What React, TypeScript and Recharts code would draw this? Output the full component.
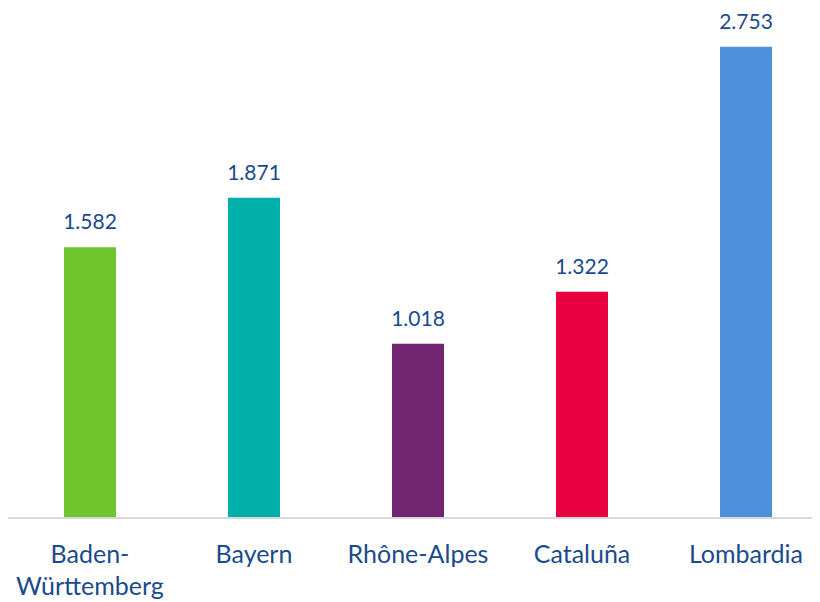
import React from "react";
import { BarChart, Bar, XAxis, YAxis, Cell, LabelList } from "recharts";

const categories = ["Baden-Württemberg", "Bayern", "Rhône-Alpes", "Cataluña", "Lombardia"];
const values = [1.582, 1.871, 1.018, 1.322, 2.753];
const valueLabels = ["1.582", "1.871", "1.018", "1.322", "2.753"];
const colors = ["#71C52E", "#00AFAA", "#71246F", "#E9003F", "#4E91DB"];

const data = categories.map((c, i) => ({ name: c, value: values[i], label: valueLabels[i] }));

const TEXT = "#1B4B8C";
const FONT = "Lato, 'Noto Sans', sans-serif";

const Tick = (props: any) => {
  const { x, y, payload } = props;
  const name: string = payload.value;
  const lines = name === "Baden-Württemberg" ? ["Baden-", "Württemberg"] : [name];
  return (
    <text x={x} y={y} textAnchor="middle" fill={TEXT} fontFamily={FONT} fontSize={25}>
      {lines.map((l, i) => (
        <tspan key={i} x={x} y={y + 37 + i * 32}>
          {l}
        </tspan>
      ))}
    </text>
  );
};

export default function App() {
  return (
    <div style={{ width: 812, height: 594, overflow: "hidden" }}>
      <BarChart
        width={820}
        height={594}
        data={data}
        margin={{ top: 0, right: 0, bottom: 0, left: 0 }}
        barSize={52}
      >
        <XAxis
          dataKey="name"
          tick={<Tick />}
          tickLine={false}
          axisLine={{ stroke: "#D9D9D9", strokeWidth: 2 }}
          height={84}
          interval={0}
        />
        <YAxis hide domain={[0, 2.98]} />
        <Bar dataKey="value" isAnimationActive={false}>
          {data.map((d, i) => (
            <Cell key={i} fill={colors[i]} />
          ))}
          <LabelList
            dataKey="label"
            position="top"
            offset={18}
            fill={TEXT}
            fontFamily={FONT}
            fontSize={21}
          />
        </Bar>
      </BarChart>
    </div>
  );
}
